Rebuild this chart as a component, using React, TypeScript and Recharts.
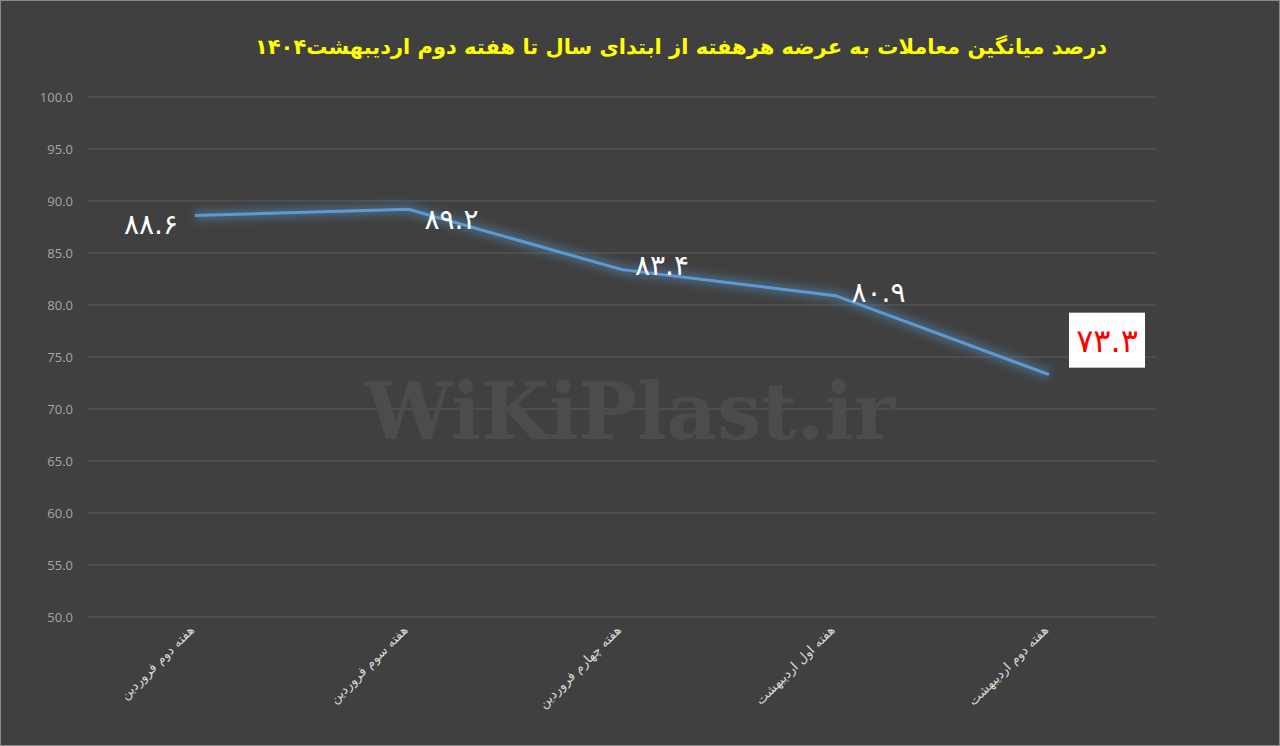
import { CartesianGrid, LabelList, Line, LineChart, XAxis, YAxis } from "recharts";

const weeks = [
  "هفته دوم فروردین",
  "هفته سوم فروردین",
  "هفته چهارم فروردین",
  "هفته اول اردیبهشت",
  "هفته دوم اردیبهشت",
];
const shares = [88.6, 89.2, 83.4, 80.9, 73.3];
const yTicks = [50, 55, 60, 65, 70, 75, 80, 85, 90, 95, 100];
const title = "درصد میانگین معاملات به عرضه هرهفته از ابتدای سال تا هفته دوم اردیبهشت۱۴۰۴";

const data = weeks.map((w, i) => ({ week: w, share: shares[i] }));

const faDigits = (s: string) => s.replace(/\d/g, (d) => "۰۱۲۳۴۵۶۷۸۹"[+d]);

// label placement relative to each point (dx, dy)
const labelShift = [
  [-44, 8],
  [43, 10],
  [40, -5],
  [43, -4],
];

function PointLabel(props: any) {
  const { x, y, value, index } = props;
  const txt = faDigits(Number(value).toFixed(1));
  if (index === shares.length - 1) {
    const cx = x + 58;
    const cy = y - 34;
    return (
      <g>
        <rect x={cx - 38} y={cy - 28} width={76} height={55} fill="#ffffff" />
        <text x={cx} y={cy + 11} textAnchor="middle" fill="#ff0000" fontSize={32} fontFamily="DejaVu Sans">
          {txt}
        </text>
      </g>
    );
  }
  const [dx, dy] = labelShift[index];
  return (
    <text x={x + dx} y={y + dy + 10} textAnchor="middle" fill="#ffffff" fontSize={28} fontFamily="DejaVu Sans">
      {txt}
    </text>
  );
}

function WeekTick(props: any) {
  const { x, y, payload } = props;
  return (
    <text
      x={x}
      y={y}
      transform={`rotate(-45 ${x} ${y})`}
      textAnchor="end"
      fill="#d9d9d9"
      fontSize={13}
      fontFamily="DejaVu Sans"
    >
      {payload.value}
    </text>
  );
}

export default function App() {
  return (
    <div
      style={{
        position: "fixed",
        left: 0,
        top: 0,
        width: 1280,
        height: 746,
        background: "#404040",
        boxSizing: "border-box",
        border: "1px solid #8a8a8a",
      }}
    >
      <LineChart width={1278} height={744} data={data} margin={{ top: 96, right: 123, bottom: 98, left: 0 }}>
        <defs>
          <filter id="glow" x="-10%" y="-50%" width="120%" height="200%">
            <feGaussianBlur stdDeviation="4" />
          </filter>
        </defs>
        <text
          x={680}
          y={53}
          textAnchor="middle"
          fill="#ffff00"
          fontSize={21}
          fontWeight="bold"
          fontFamily="DejaVu Sans"
        >
          {title}
        </text>
        <text
          x={629}
          y={438}
          textAnchor="middle"
          fill="#4c4c4c"
          fontSize={78}
          fontWeight="bold"
          fontFamily="DejaVu Serif"
        >
          WiKiPlast.ir
        </text>
        <CartesianGrid vertical={false} stroke="#5a5a5a" />
        <XAxis
          dataKey="week"
          height={30}
          axisLine={false}
          tickLine={false}
          tickSize={0}
          tickMargin={14}
          padding={{ left: 107, right: 107 }}
          interval={0}
          tick={<WeekTick />}
        />
        <YAxis
          width={87}
          domain={[50, 100]}
          ticks={yTicks}
          axisLine={false}
          tickLine={false}
          tickSize={0}
          tickMargin={15}
          tickFormatter={(v: number) => v.toFixed(1)}
          tick={{ fill: "#a6a6a6", fontSize: 13, fontFamily: "Open Sans" }}
        />
        <Line
          dataKey="share"
          stroke="#5b9bd5"
          strokeOpacity={0.45}
          strokeWidth={9}
          filter="url(#glow)"
          dot={false}
          isAnimationActive={false}
          type="linear"
        />
        <Line dataKey="share" stroke="#5b9bd5" strokeWidth={3} dot={false} isAnimationActive={false} type="linear">
          <LabelList dataKey="share" content={<PointLabel />} />
        </Line>
      </LineChart>
    </div>
  );
}
